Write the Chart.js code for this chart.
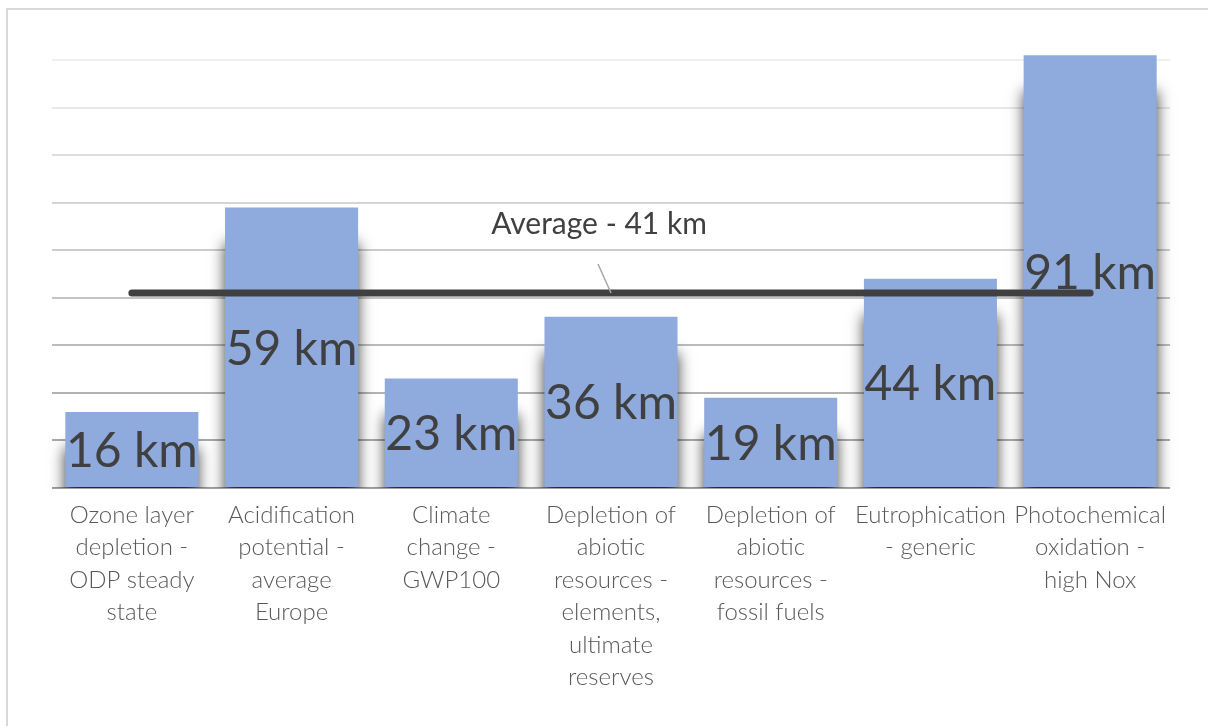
<!DOCTYPE html>
<html>
<head>
<meta charset="utf-8">
<script src="https://cdn.jsdelivr.net/npm/chart.js@4"></script>
<style>
  html, body { margin: 0; padding: 0; background: #fff; overflow: hidden; }
  #wrap { position: relative; width: 1208px; height: 726px; }
  #frame { position: absolute; left: 6px; top: 8px; width: 1230px; height: 740px; border: 2px solid #d9d9d9; }
  canvas { position: absolute; left: 0; top: 0; }
</style>
</head>
<body>
<div id="wrap">
  <div id="frame"></div>
  <canvas id="chart" width="1208" height="726"></canvas>
</div>
<script>
// categories and values
const categories = [
    ['Ozone layer', 'depletion -', 'ODP steady', 'state'],
    ['Acidification', 'potential -', 'average', 'Europe'],
    ['Climate', 'change -', 'GWP100'],
    ['Depletion of', 'abiotic', 'resources -', 'elements,', 'ultimate', 'reserves'],
    ['Depletion of', 'abiotic', 'resources -', 'fossil fuels'],
    ['Eutrophication', '- generic'],
    ['Photochemical', 'oxidation -', 'high Nox']
];
const distanceKm = [16, 59, 23, 36, 19, 44, 91];
const averageKm = [41, 41, 41, 41, 41, 41, 41];
const averageLabel = 'Average - 41 km';
const averageLabelIndex = 3;
const yTicks = [0, 10, 20, 30, 40, 50, 60, 70, 80, 90];

// soft shadow behind the bars, kept above the axis line
const barShadow = {
    id: 'barShadow',
    beforeDatasetDraw(chart, args) {
        if (args.index !== 0) return;
        const ctx = chart.ctx;
        ctx.save();
        ctx.beginPath();
        ctx.rect(0, 0, chart.width, chart.chartArea.bottom);
        ctx.clip();
        ctx.shadowColor = 'rgba(0,0,0,0.75)';
        ctx.shadowBlur = 14;
        ctx.shadowOffsetY = 36;
    },
    afterDatasetDraw(chart, args) {
        if (args.index !== 0) return;
        chart.ctx.restore();
    }
};

// value labels in the middle of each bar + the average callout
const labels = {
    id: 'labels',
    afterDatasetsDraw(chart) {
        const ctx = chart.ctx;
        ctx.save();
        ctx.fillStyle = '#404040';
        ctx.textAlign = 'center';
        ctx.textBaseline = 'middle';
        ctx.font = '48px Lato, "Open Sans", sans-serif';
        chart.getDatasetMeta(0).data.forEach((bar, i) => {
            ctx.fillText(distanceKm[i] + ' km', bar.x, (bar.y + bar.base) / 2 + 2);
        });

        const pt = chart.getDatasetMeta(1).data[averageLabelIndex];
        ctx.strokeStyle = '#a6a6a6';
        ctx.lineWidth = 1.5;
        ctx.beginPath();
        ctx.moveTo(pt.x - 13, pt.y - 29);
        ctx.lineTo(pt.x, pt.y);
        ctx.stroke();
        ctx.font = '30px Lato, "Open Sans", sans-serif';
        ctx.fillText(averageLabel, pt.x - 12, pt.y - 69);
        ctx.restore();
    }
};

new Chart(document.getElementById('chart'), {
    type: 'bar',
    data: {
        labels: categories,
        datasets: [{
            type: 'bar',
            data: distanceKm,
            backgroundColor: '#8faadc',
            barPercentage: 0.833,
            categoryPercentage: 1,
            clip: false,
            order: 2
        }, {
            type: 'line',
            data: averageKm,
            borderColor: '#404040',
            borderWidth: 7,
            borderCapStyle: 'round',
            pointRadius: 0,
            order: 1
        }]
    },
    options: {
        responsive: false,
        animation: false,
        events: [],
        layout: { padding: { top: 60, right: 38, left: 0, bottom: 0 } },
        plugins: { legend: { display: false }, tooltip: { enabled: false } },
        scales: {
            x: {
                grid: { display: false },
                border: { display: false },
                ticks: {
                    color: '#595959',
                    font: { family: 'Lato, "Open Sans", sans-serif', size: 24, weight: 300, lineHeight: 1.35 },
                    padding: 3,
                    maxRotation: 0,
                    minRotation: 0,
                    autoSkip: false
                },
                afterFit(scale) { scale.height = 238; }
            },
            y: {
                min: 0,
                max: 90,
                border: { display: false },
                afterBuildTicks(scale) { scale.ticks = yTicks.map(v => ({ value: v })); },
                grid: {
                    drawTicks: false,
                    lineWidth: 2,
                    color(c) {
                        const v = c.tick ? c.tick.value : 0;
                        const g = Math.round(160 + 80 * v / 90);
                        return `rgb(${g},${g},${g})`;
                    }
                },
                ticks: { display: false },
                afterFit(scale) { scale.width = 52; }
            }
        }
    },
    plugins: [barShadow, labels]
});
</script>
</body>
</html>
